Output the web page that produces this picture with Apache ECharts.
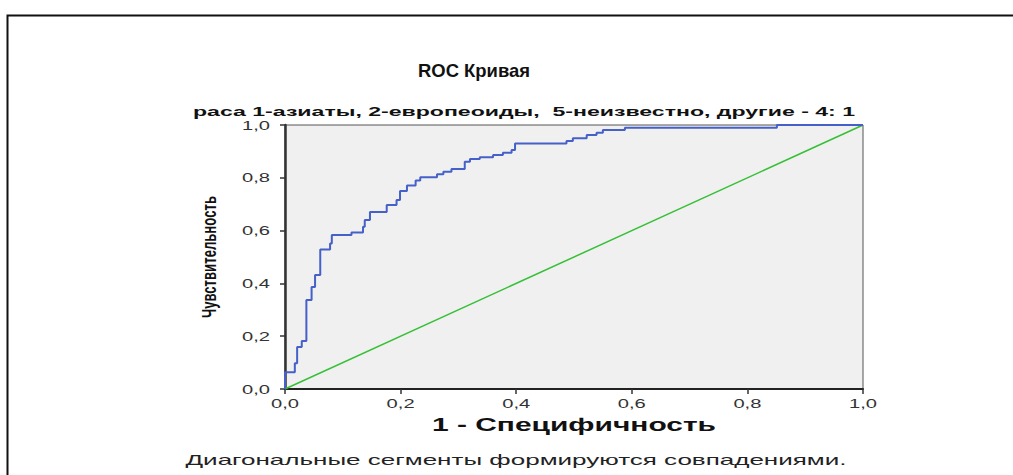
<!DOCTYPE html>
<html>
<head>
<meta charset="utf-8">
<script src="https://cdn.jsdelivr.net/npm/echarts@6/dist/echarts.min.js"></script>
<style>
html,body{margin:0;padding:0;background:#fff;}
#c{width:1013px;height:475px;}
</style>
</head>
<body>
<div id="c"></div>
<script>
// ROC curve corner points (1 - specificity, sensitivity); step turns at start
const fpr = [0, 0.017, 0.021, 0.029, 0.037, 0.046, 0.052, 0.061, 0.078, 0.081,
  0.115, 0.135, 0.138, 0.147, 0.176, 0.193, 0.199, 0.211, 0.226, 0.234,
  0.263, 0.274, 0.288, 0.311, 0.320, 0.337, 0.360, 0.377, 0.392, 0.398,
  0.487, 0.498, 0.522, 0.539, 0.550, 0.588, 0.851, 1];
const tpr = [0, 0.063, 0.098, 0.159, 0.182, 0.337, 0.386, 0.432, 0.528, 0.551,
  0.583, 0.593, 0.615, 0.640, 0.670, 0.697, 0.716, 0.750, 0.771, 0.790,
  0.802, 0.813, 0.823, 0.833, 0.861, 0.871, 0.878, 0.886, 0.895, 0.905,
  0.930, 0.939, 0.950, 0.962, 0.971, 0.981, 0.990, 1];
// reference diagonal
const diagX = [0, 1];
const diagY = [0, 1];

const titleText = 'ROC Кривая';
const subtitleText = 'раса 1-азиаты, 2-европеоиды,  5-неизвестно, другие - 4: 1';
const xName = '1 - Специфичность';
const yName = 'Чувствительность';
const footText = 'Диагональные сегменты формируются совпадениями.';

const FONT = '"Liberation Sans", Arial, sans-serif';
const fmt = v => v.toFixed(1).replace('.', ',');

const chart = echarts.init(document.getElementById('c'), null, {renderer: 'svg'});
const option = {
  animation: false,
  backgroundColor: '#fff',
  textStyle: {fontFamily: FONT},
  grid: {left: 285, top: 125, width: 578, height: 264, show: true,
    backgroundColor: '#F0F0F0', borderColor: '#555', borderWidth: 1},
  xAxis: {
    type: 'value', min: 0, max: 1, interval: 0.2,
    name: xName, nameLocation: 'middle', nameGap: 27,
    nameTextStyle: {fontFamily: FONT, fontSize: 18, fontWeight: 'bold', color: '#111', verticalAlign: 'top'},
    axisLine: {show: true, onZero: false, lineStyle: {color: '#222', width: 2}},
    axisTick: {show: true, inside: false, length: 5, lineStyle: {color: '#333', width: 1.5}},
    axisLabel: {formatter: fmt, fontFamily: FONT, fontSize: 13, color: '#333', margin: 8},
    splitLine: {show: false}
  },
  yAxis: {
    type: 'value', min: 0, max: 1, interval: 0.2,
    name: yName, nameLocation: 'middle', nameGap: 66,
    nameTextStyle: {fontFamily: FONT, fontSize: 20, fontWeight: 'bold', color: '#111'},
    axisLine: {show: true, onZero: false, lineStyle: {color: '#333', width: 2.5}},
    axisTick: {show: true, inside: false, length: 5, lineStyle: {color: '#333', width: 1.5}},
    axisLabel: {formatter: fmt, fontFamily: FONT, fontSize: 13, color: '#333', margin: 15},
    splitLine: {show: false}
  },
  graphic: [
    {type: 'rect', left: 5, top: 13, silent: true,
      shape: {width: 1100, height: 600},
      style: {fill: 'none', stroke: '#111', lineWidth: 2}},
    {type: 'text', x: 474, y: 70, silent: true,
      style: {text: titleText, fontFamily: FONT, fontSize: 19, fontWeight: 'bold', fill: '#111',
        textAlign: 'center', textVerticalAlign: 'middle'}},
    {type: 'text', x: 524, y: 111, silent: true,
      style: {text: subtitleText, fontFamily: FONT, fontSize: 13, fontWeight: 'bold', fill: '#111',
        textAlign: 'center', textVerticalAlign: 'middle'}},
    {type: 'text', x: 516, y: 459, silent: true,
      style: {text: footText, fontFamily: FONT, fontSize: 15, fill: '#222',
        textAlign: 'center', textVerticalAlign: 'middle'}}
  ],
  series: [
    {type: 'line', data: diagX.map((x, i) => [x, diagY[i]]), symbol: 'none',
      lineStyle: {color: '#35C035', width: 1.5}, z: 2},
    {type: 'line', data: fpr.map((x, i) => [x, tpr[i]]), step: 'start', symbol: 'none',
      lineStyle: {color: '#4560C8', width: 2}, z: 3}
  ]
};
chart.setOption(option);

// stretch texts like the original (wide SPSS rendering)
const lengths = {};
lengths[titleText] = 112;
lengths[subtitleText] = 662;
lengths[xName] = 284;
lengths[yName] = 122;
lengths[footText] = 661;
function fitText() {
  document.querySelectorAll('#c text').forEach(t => {
    const s = t.textContent;
    let L = lengths[s];
    if (L == null && /^\d,\d$/.test(s)) L = 28;
    if (L != null) {
      t.setAttribute('textLength', L);
      t.setAttribute('lengthAdjust', 'spacingAndGlyphs');
    }
  });
}
chart.on('finished', fitText);
setTimeout(fitText, 0);
setTimeout(fitText, 100);
</script>
</body>
</html>
